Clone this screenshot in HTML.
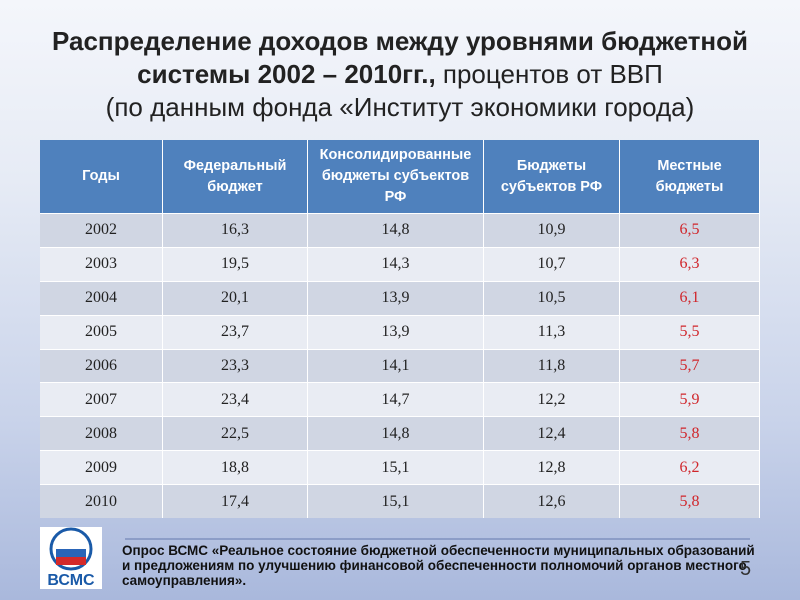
<!DOCTYPE html>
<html><head><meta charset="utf-8"><style>
body{margin:0;width:800px;height:600px;overflow:hidden;font-family:"Liberation Sans","DejaVu Sans",sans-serif;
background:linear-gradient(180deg,#f4f6fb 0%,#e6ebf5 30%,#c9d3ea 70%,#a9b8dc 100%);position:relative}
.title{position:absolute;left:0;width:800px;text-align:center;font-size:26px;color:#222;line-height:33px;top:25px;white-space:nowrap}
table{position:absolute;left:40px;top:140px;border-collapse:collapse;width:720px;font-family:"Liberation Serif",serif}
th{background:#4f81bd;color:#fff;font-family:"Liberation Sans",sans-serif;font-size:14.5px;font-weight:bold;height:73px;border-right:1px solid #fff;line-height:21px;padding:0}
td{text-align:center;font-size:16px;color:#222;height:32.9px;padding:0;border-right:1px solid #fff;border-top:1px solid #fff}
tr:nth-child(even) td{background:#d0d6e3}
tr:nth-child(odd) td{background:#e9ecf3}
td.r{color:#d0262b}
.foot{position:absolute;left:122px;top:543px;font-size:13.5px;font-weight:bold;color:#111;line-height:15px;white-space:nowrap}
</style></head><body>
<div class="title"><b>Распределение доходов между уровнями бюджетной</b><br><b>системы 2002 – 2010гг.,</b> процентов от ВВП<br>(по данным фонда «Институт экономики города)</div>
<table>
<tr><th style="width:122px">Годы</th><th style="width:144px">Федеральный<br>бюджет</th><th style="width:175px">Консолидированные<br>бюджеты субъектов<br>РФ</th><th style="width:135px">Бюджеты<br>субъектов РФ</th><th>Местные<br>бюджеты</th></tr>
<tr><td>2002</td><td>16,3</td><td>14,8</td><td>10,9</td><td class="r">6,5</td></tr>
<tr><td>2003</td><td>19,5</td><td>14,3</td><td>10,7</td><td class="r">6,3</td></tr>
<tr><td>2004</td><td>20,1</td><td>13,9</td><td>10,5</td><td class="r">6,1</td></tr>
<tr><td>2005</td><td>23,7</td><td>13,9</td><td>11,3</td><td class="r">5,5</td></tr>
<tr><td>2006</td><td>23,3</td><td>14,1</td><td>11,8</td><td class="r">5,7</td></tr>
<tr><td>2007</td><td>23,4</td><td>14,7</td><td>12,2</td><td class="r">5,9</td></tr>
<tr><td>2008</td><td>22,5</td><td>14,8</td><td>12,4</td><td class="r">5,8</td></tr>
<tr><td>2009</td><td>18,8</td><td>15,1</td><td>12,8</td><td class="r">6,2</td></tr>
<tr><td>2010</td><td>17,4</td><td>15,1</td><td>12,6</td><td class="r">5,8</td></tr>
</table>
<div style="position:absolute;left:40px;top:527px;width:62px;height:62px;background:#fff">
<svg width="62" height="62"><ellipse cx="31" cy="22" rx="20" ry="20" fill="none" stroke="#1a5aa8" stroke-width="3"/><rect x="16" y="14" width="30" height="8" fill="#fff"/><rect x="16" y="22" width="30" height="8" fill="#2a65b8"/><rect x="16" y="30" width="30" height="8" fill="#d42a2a"/><text x="31" y="58" font-size="16" font-weight="bold" fill="#1a5aa8" text-anchor="middle" font-family="Liberation Sans">ВСМС</text></svg></div>
<div style="position:absolute;left:125px;top:538px;width:625px;height:2px;background:#8c9dc7"></div>
<div class="foot">Опрос  ВСМС «Реальное состояние бюджетной обеспеченности  муниципальных образований<br>и предложениям по улучшению финансовой обеспеченности полномочий органов местного<br>самоуправления».</div>
<div style="position:absolute;left:740px;top:558px;font-size:20px;color:#333">5</div>
</body></html>
